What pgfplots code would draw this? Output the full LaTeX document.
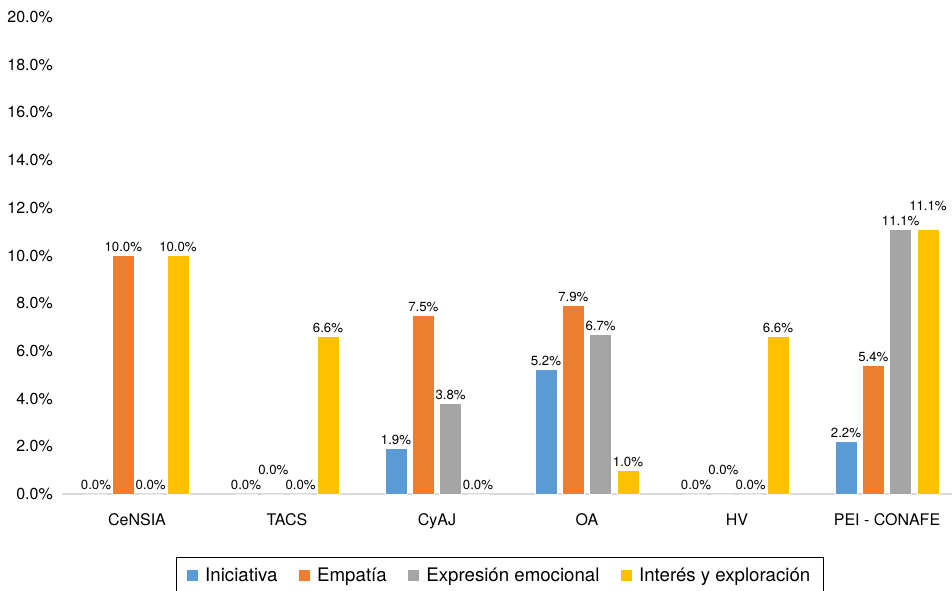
\documentclass[border=0pt]{standalone}
\usepackage{fontspec}
\setmainfont{TeX Gyre Heros}
\usepackage{pgfplots}
\pgfplotsset{compat=1.18}
\usepackage{pgfplotstable}
\definecolor{cblue}{HTML}{5B9BD5}
\definecolor{corange}{HTML}{ED7D31}
\definecolor{cgray}{HTML}{A5A5A5}
\definecolor{cgold}{HTML}{FFC000}
\definecolor{axisgray}{HTML}{D9D9D9}

\pgfplotstableread{
x y off
0 0 0
1 0 0
2 1.9 0
3 5.2 0
4 0 0
5 2.2 0
}\iniciativa
\pgfplotstableread{
x y off
0 10.0 0
1 0 1
2 7.5 0
3 7.9 0
4 0 1
5 5.4 0
}\empatia
\pgfplotstableread{
x y off
0 0 0
1 0 0
2 3.8 0
3 6.7 0
4 0 0
5 11.1 0
}\expresion
\pgfplotstableread{
x y off
0 10.0 0
1 6.6 0
2 0 0
3 1.0 0
4 6.6 0
5 11.1 1
}\interes

\begin{document}
\begin{tikzpicture}
\useasboundingbox (0,0) rectangle (714pt,442.5pt);
\begin{axis}[
  at={(46.5pt,72pt)}, anchor=south west,
  scale only axis, width=667.5pt, height=357.75pt,
  xmin=-0.5, xmax=5.4333, ymin=0, ymax=20,
  enlargelimits=false, clip=false,
  ybar=4pt, bar width=16.5pt,
  axis x line*=bottom, axis y line*=left,
  y axis line style={draw=none},
  x axis line style={draw=axisgray, line width=1pt, -},
  xtick={0,...,5},
  xticklabels={CeNSIA,TACS,CyAJ,OA,HV,PEI - CONAFE},
  xtick style={draw=none}, ytick style={draw=none},
  ytick={0,2,...,20},
  yticklabel={\pgfmathprintnumber[fixed,fixed zerofill,precision=1]{\tick}\%},
  /pgf/number format/assume math mode=true,
  tick label style={font=\fontsize{12}{14}\selectfont, text=black},
  yticklabel style={anchor=east, inner sep=0pt, xshift=-6.75pt},
  xticklabel style={anchor=north, inner sep=0pt, yshift=-10.5pt},
  visualization depends on={\thisrow{off} \as \myoff},
  nodes near coords={\pgfmathprintnumber[fixed,fixed zerofill,precision=1]{\pgfplotspointmeta}\%},
  nodes near coords style={font=\fontsize{9.9}{11}\selectfont, text=black, anchor=south, inner sep=0pt, yshift=2.5pt+\myoff*11.25pt},
  legend columns=4,
  legend style={at={(axis description cs:0.4921,-0.1318)}, anchor=north, draw=black, line width=0.9pt,
    font=\fontsize{14}{16}\selectfont, inner xsep=8pt, inner ysep=6pt,
    /tikz/every odd column/.append style={column sep=3.5pt},
    /tikz/every even column/.append style={column sep=14pt}},
  legend image code/.code={\fill[#1, draw=none] (0pt,-4.1pt) rectangle (8.25pt,4.1pt);},
  every axis plot/.append style={draw=white, line width=0.75pt},
]
\addplot[fill=cblue] table[x=x,y=y] {\iniciativa};
\addplot[fill=corange] table[x=x,y=y] {\empatia};
\addplot[fill=cgray] table[x=x,y=y] {\expresion};
\addplot[fill=cgold] table[x=x,y=y] {\interes};
\legend{Iniciativa,Empatía,Expresión emocional,Interés y exploración}
\end{axis}
\end{tikzpicture}
\end{document}
